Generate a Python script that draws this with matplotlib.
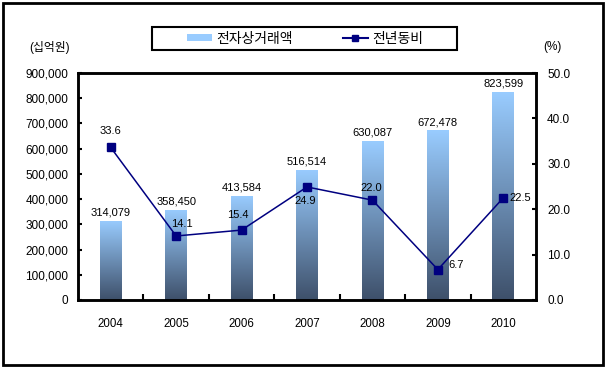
import numpy as np
import matplotlib
matplotlib.use('Agg')
import matplotlib.pyplot as plt
from matplotlib.colors import LinearSegmentedColormap
from matplotlib.patches import Rectangle, Patch
from matplotlib.lines import Line2D
from matplotlib.ticker import FuncFormatter

plt.rcParams['font.family'] = ['Liberation Sans', 'Noto Sans CJK KR']

#%% data
years = ['2004', '2005', '2006', '2007', '2008', '2009', '2010']
sales = [314079, 358450, 413584, 516514, 630087, 672478, 823599]   # 전자상거래액 (십억원)
growth = [33.6, 14.1, 15.4, 24.9, 22.0, 6.7, 22.5]                 # 전년동비 (%)
# label offsets for the growth labels, in points
growth_off = [(0, 11.5), (4, 8.5), (-3, 11), (-1, -10), (-1, 9), (13, 3.5), (12, 0)]

#%% figure
fig = plt.figure(figsize=(6.05, 3.70), dpi=100)
ax = fig.add_axes([78/605, 70/370, 458/605, 227/370])
ax2 = ax.twinx()

x = np.arange(len(years))
cmap = LinearSegmentedColormap.from_list('bar', ['#3e506a', '#99ccff'])
grad = np.linspace(0, 1, 256).reshape(-1, 1)

bars = ax.bar(x, sales, width=0.33, color='none', edgecolor='none')
for b in bars:
    x0, y0 = b.get_x(), b.get_y()
    im = ax.imshow(grad, extent=[x0, x0 + b.get_width(), y0, y0 + b.get_height()],
                   origin='lower', aspect='auto', cmap=cmap, zorder=1)
    im.set_clip_path(b)
for xi, v in zip(x, sales):
    ax.annotate(f'{v:,}', (xi, v), xytext=(0, 6), textcoords='offset points',
                ha='center', va='center', fontsize=8)

ax.set_xlim(-0.5, len(years) - 0.5)
ax.set_ylim(0, 900000)
ax.set_yticks(np.arange(0, 900001, 100000))
ax.yaxis.set_major_formatter(FuncFormatter(lambda v, p: f'{int(v):,}'))
ax.set_xticks(x)
ax.set_xticklabels(years)
ax.set_xticks(x[:-1] + 0.5, minor=True)
ax.tick_params(axis='x', which='major', length=0, pad=13, labelsize=8.3)
ax.tick_params(axis='x', which='minor', direction='in', length=4, width=1.5)
ax.tick_params(axis='y', direction='in', length=3, width=1.5, pad=7, labelsize=8.5)

ax2.plot(x, growth, color='#000080', lw=1.1, marker='s', markersize=6, zorder=3)
for xi, v, off in zip(x, growth, growth_off):
    ax2.annotate(f'{v:.1f}', (xi, v), xytext=off, textcoords='offset points',
                 ha='center', va='center', fontsize=8)
ax2.set_ylim(0, 50)
ax2.set_yticks(np.arange(0, 51, 10))
ax2.yaxis.set_major_formatter(FuncFormatter(lambda v, p: f'{v:.1f}'))
ax2.tick_params(axis='y', direction='in', length=3, width=1.5, pad=8, labelsize=8.5)

for a in (ax, ax2):
    for s in a.spines.values():
        s.set_linewidth(1.8)

fig.text(50/605, 1 - 47/370, '(십억원)', ha='center', va='center', fontsize=8.5)
fig.text(552/605, 1 - 47/370, '(%)', ha='center', va='center', fontsize=8.5)

# legend box
fig.patches.append(Rectangle((152/605, 320/370), 305/605, 23/370, transform=fig.transFigure,
                             fill=False, edgecolor='black', linewidth=1.5))
handles = [Patch(facecolor='#99ccff', edgecolor='none'),
           Line2D([], [], color='#000080', lw=1.5, marker='s', markersize=5)]
fig.legend(handles, ['전자상거래액', '전년동비'], loc='center', ncol=2,
           bbox_to_anchor=(305/605, 331.5/370), frameon=False, fontsize=10,
           handlelength=1.8, handleheight=0.35, handletextpad=0.3, columnspacing=3.6)

# outer frame
fig.patches.append(Rectangle((3/605, 5/370), 600/605, 362/370, transform=fig.transFigure,
                             fill=False, edgecolor='black', linewidth=2))

fig.savefig('out.png', dpi=100)
